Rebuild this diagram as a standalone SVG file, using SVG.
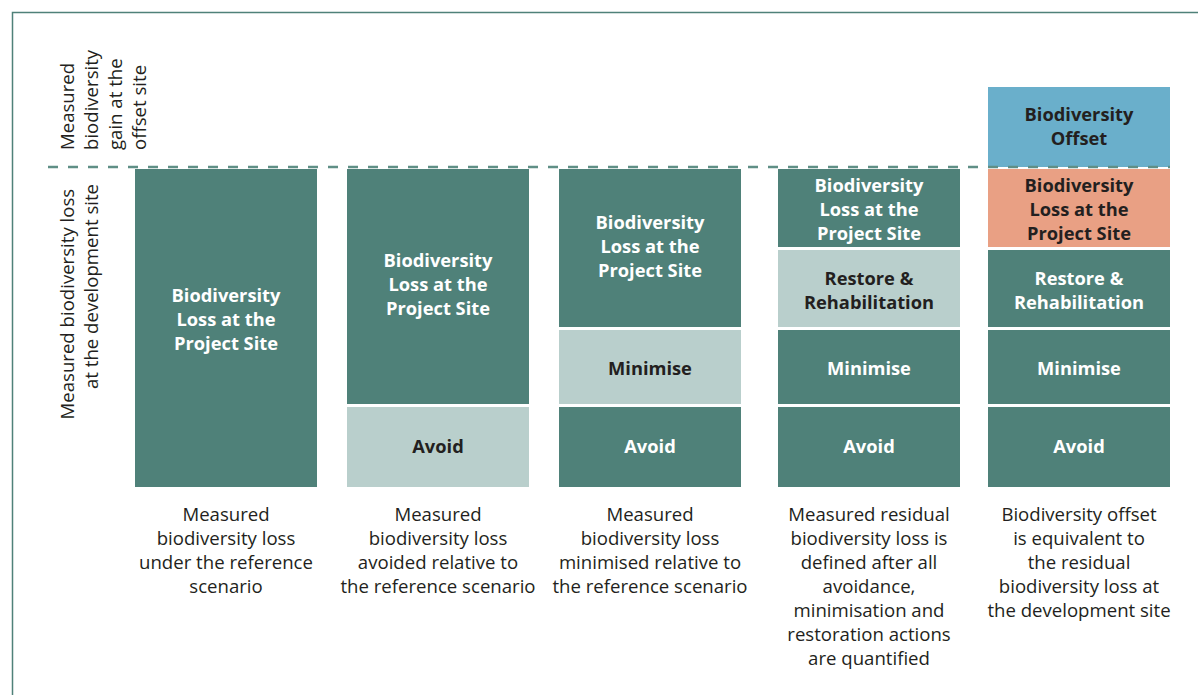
<svg xmlns="http://www.w3.org/2000/svg" width="1198" height="695" viewBox="0 0 1198 695">
  <style>
    .dark { fill: #4f8179; }
    .light { fill: #b9cfcc; }
    .blue { fill: #6aafcb; }
    .orange { fill: #e9a084; }
    .lbl { font-family: "Open Sans", "Liberation Sans", sans-serif; font-size: 18.3px; font-weight: bold; text-anchor: middle; }
    .lbl-w { fill: #ffffff; }
    .lbl-d { fill: #231f20; }
    .desc { font-family: "Open Sans", "Liberation Sans", sans-serif; font-size: 18.6px; fill: #231f20; text-anchor: middle; }
    .axis { font-family: "Open Sans", "Liberation Sans", sans-serif; font-size: 18.6px; fill: #231f20; }
  </style>

  <rect x="0" y="0" width="1198" height="695" fill="#ffffff"/>

  <!-- frame -->
  <path d="M12.5,695 V12.5 H1198" fill="none" stroke="#4f8179" stroke-width="1.5"/>

  <!-- axis labels -->
  <g id="axis-gain">
    <text class="axis" transform="translate(0,150) rotate(-90)">
      <tspan x="0" y="74">Measured</tspan>
      <tspan x="0" y="98">biodiversity</tspan>
      <tspan x="0" y="122">gain at the</tspan>
      <tspan x="0" y="146">offset site</tspan>
    </text>
  </g>
  <g id="axis-loss">
    <text class="axis" text-anchor="end" transform="translate(0,184) rotate(-90)">
      <tspan x="0" y="74">Measured biodiversity loss</tspan>
      <tspan x="0" y="98">at the development site</tspan>
    </text>
  </g>

  <!-- column 1: reference scenario -->
  <g id="col1">
    <rect class="dark" x="135" y="169" width="182" height="318"/>
    <text class="lbl lbl-w"><tspan x="226" y="302">Biodiversity</tspan><tspan x="226" y="326">Loss at the</tspan><tspan x="226" y="350">Project Site</tspan></text>
    <text class="desc"><tspan x="226" y="521">Measured</tspan><tspan x="226" y="545">biodiversity loss</tspan><tspan x="226" y="569">under the reference</tspan><tspan x="226" y="593">scenario</tspan></text>
  </g>

  <!-- column 2: avoid -->
  <g id="col2">
    <rect class="dark" x="347" y="169" width="182" height="235"/>
    <rect class="light" x="347" y="407" width="182" height="80"/>
    <text class="lbl lbl-w"><tspan x="438" y="267">Biodiversity</tspan><tspan x="438" y="291">Loss at the</tspan><tspan x="438" y="315">Project Site</tspan></text>
    <text class="lbl lbl-d" x="438" y="453">Avoid</text>
    <text class="desc"><tspan x="438" y="521">Measured</tspan><tspan x="438" y="545">biodiversity loss</tspan><tspan x="438" y="569">avoided relative to</tspan><tspan x="438" y="593">the reference scenario</tspan></text>
  </g>

  <!-- column 3: minimise -->
  <g id="col3">
    <rect class="dark" x="559" y="169" width="182" height="158"/>
    <rect class="light" x="559" y="330" width="182" height="74"/>
    <rect class="dark" x="559" y="407" width="182" height="80"/>
    <text class="lbl lbl-w"><tspan x="650" y="229">Biodiversity</tspan><tspan x="650" y="253">Loss at the</tspan><tspan x="650" y="277">Project Site</tspan></text>
    <text class="lbl lbl-d" x="650" y="375">Minimise</text>
    <text class="lbl lbl-w" x="650" y="453">Avoid</text>
    <text class="desc"><tspan x="650" y="521">Measured</tspan><tspan x="650" y="545">biodiversity loss</tspan><tspan x="650" y="569">minimised relative to</tspan><tspan x="650" y="593">the reference scenario</tspan></text>
  </g>

  <!-- column 4: restore -->
  <g id="col4">
    <rect class="dark" x="778" y="169" width="182" height="78"/>
    <rect class="light" x="778" y="250" width="182" height="77"/>
    <rect class="dark" x="778" y="330" width="182" height="74"/>
    <rect class="dark" x="778" y="407" width="182" height="80"/>
    <text class="lbl lbl-w"><tspan x="869" y="192">Biodiversity</tspan><tspan x="869" y="216">Loss at the</tspan><tspan x="869" y="240">Project Site</tspan></text>
    <text class="lbl lbl-d"><tspan x="869" y="285">Restore &amp;</tspan><tspan x="869" y="309">Rehabilitation</tspan></text>
    <text class="lbl lbl-w" x="869" y="375">Minimise</text>
    <text class="lbl lbl-w" x="869" y="453">Avoid</text>
    <text class="desc"><tspan x="869" y="521">Measured residual</tspan><tspan x="869" y="545">biodiversity loss is</tspan><tspan x="869" y="569">defined after all</tspan><tspan x="869" y="593">avoidance,</tspan><tspan x="869" y="617">minimisation and</tspan><tspan x="869" y="641">restoration actions</tspan><tspan x="869" y="665">are quantified</tspan></text>
  </g>

  <!-- column 5: offset -->
  <g id="col5">
    <rect class="blue" x="988" y="87" width="182" height="80"/>
    <rect class="orange" x="988" y="169" width="182" height="78"/>
    <rect class="dark" x="988" y="250" width="182" height="77"/>
    <rect class="dark" x="988" y="330" width="182" height="74"/>
    <rect class="dark" x="988" y="407" width="182" height="80"/>
    <text class="lbl lbl-d"><tspan x="1079" y="121">Biodiversity</tspan><tspan x="1079" y="145">Offset</tspan></text>
    <text class="lbl lbl-d"><tspan x="1079" y="192">Biodiversity</tspan><tspan x="1079" y="216">Loss at the</tspan><tspan x="1079" y="240">Project Site</tspan></text>
    <text class="lbl lbl-w"><tspan x="1079" y="285">Restore &amp;</tspan><tspan x="1079" y="309">Rehabilitation</tspan></text>
    <text class="lbl lbl-w" x="1079" y="375">Minimise</text>
    <text class="lbl lbl-w" x="1079" y="453">Avoid</text>
    <text class="desc"><tspan x="1079" y="521">Biodiversity offset</tspan><tspan x="1079" y="545">is equivalent to</tspan><tspan x="1079" y="569">the residual</tspan><tspan x="1079" y="593">biodiversity loss at</tspan><tspan x="1079" y="617">the development site</tspan></text>
  </g>

  <!-- loss / gain divide -->
  <g id="connectors">
    <line x1="48" y1="167" x2="1170" y2="167" stroke="#5f8f86" stroke-width="2.5" stroke-dasharray="10 10"/>
  </g>
</svg>
